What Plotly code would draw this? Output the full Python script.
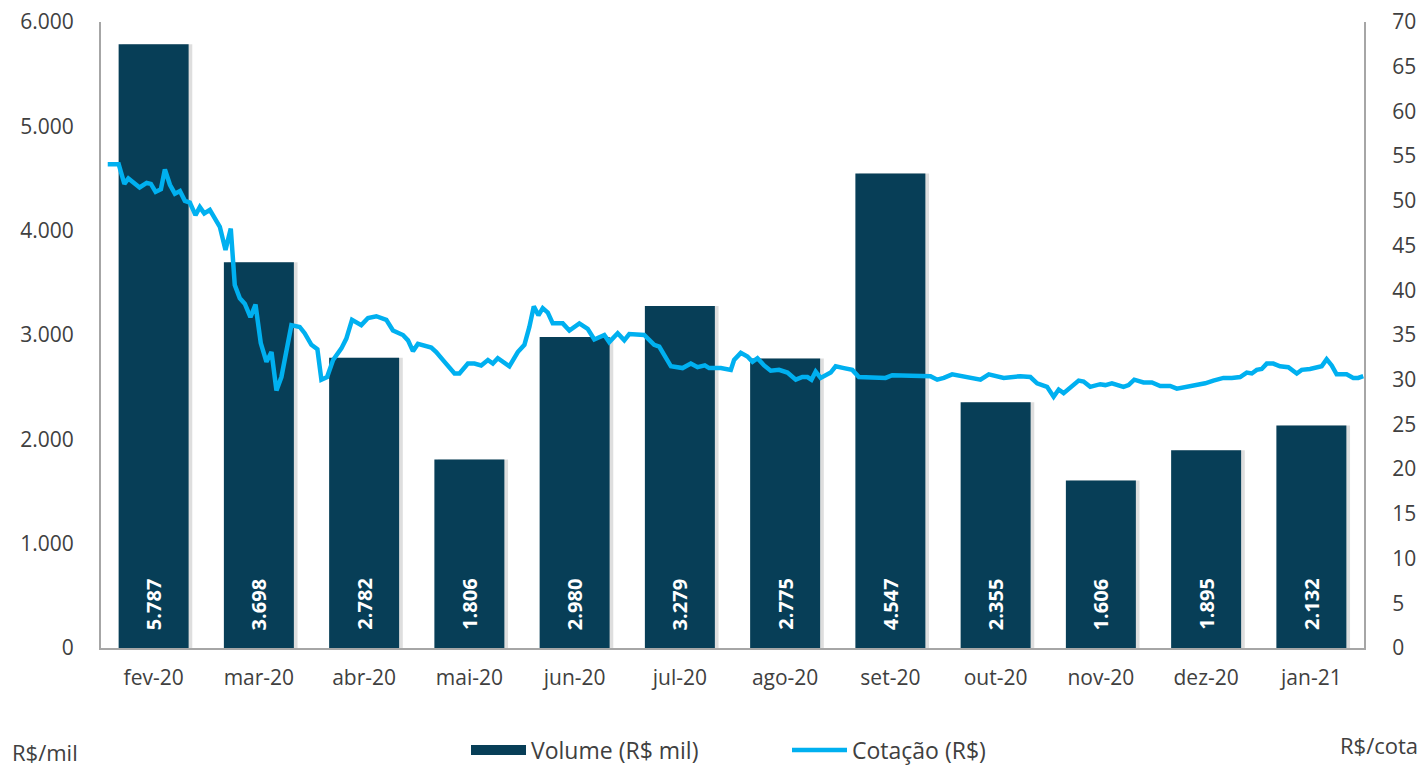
import plotly.graph_objects as go

# ---------------- data ----------------
months = ["fev-20", "mar-20", "abr-20", "mai-20", "jun-20", "jul-20",
          "ago-20", "set-20", "out-20", "nov-20", "dez-20", "jan-21"]
volume = [5787, 3698, 2782, 1806, 2980, 3279, 2775, 4547, 2355, 1606, 1895, 2132]
volume_labels = ["5.787", "3.698", "2.782", "1.806", "2.980", "3.279",
                 "2.775", "4.547", "2.355", "1.606", "1.895", "2.132"]

# quote (R$) over time; position measured in months from fev-20 (0) to jan-21 (11)
cot_pos = [-0.436, -0.332, -0.278, -0.240, -0.133, -0.066, -0.026, 0.019, 0.069, 0.107,
           0.155, 0.202, 0.250, 0.297, 0.344, 0.398, 0.439, 0.481, 0.534, 0.582,
           0.629, 0.683, 0.733, 0.771, 0.819, 0.866, 0.920, 0.968, 1.018, 1.072,
           1.120, 1.167, 1.214, 1.309, 1.388, 1.435, 1.499, 1.556, 1.594, 1.648,
           1.705, 1.784, 1.831, 1.885, 1.973, 2.037, 2.116, 2.211, 2.274, 2.369,
           2.417, 2.464, 2.511, 2.638, 2.685, 2.764, 2.859, 2.906, 2.986, 3.048,
           3.112, 3.176, 3.223, 3.270, 3.318, 3.380, 3.460, 3.523, 3.570, 3.612,
           3.656, 3.697, 3.745, 3.792, 3.887, 3.950, 4.045, 4.124, 4.187, 4.282,
           4.329, 4.409, 4.472, 4.519, 4.661, 4.756, 4.804, 4.851, 4.915, 5.026,
           5.104, 5.168, 5.237, 5.278, 5.389, 5.484, 5.515, 5.579, 5.642, 5.690,
           5.737, 5.800, 5.863, 5.942, 6.022, 6.101, 6.164, 6.212, 6.250, 6.290,
           6.338, 6.433, 6.480, 6.559, 6.638, 6.701, 6.812, 6.954, 7.018, 7.223,
           7.381, 7.445, 7.508, 7.587, 7.698, 7.856, 7.935, 8.077, 8.235, 8.330,
           8.394, 8.489, 8.551, 8.599, 8.646, 8.710, 8.789, 8.836, 8.899, 8.994,
           9.042, 9.105, 9.215, 9.263, 9.317, 9.405, 9.485, 9.564, 9.658, 9.722,
           9.817, 9.912, 9.991, 10.069, 10.164, 10.244, 10.323, 10.386, 10.434, 10.481,
           10.528, 10.576, 10.638, 10.702, 10.781, 10.861, 10.908, 10.987, 11.050, 11.098,
           11.145, 11.193, 11.240, 11.335, 11.398, 11.445, 11.493]
cot_val = [54.1, 54.1, 51.9, 52.5, 51.5, 52.0, 51.9, 51.0, 51.3, 53.5,
           51.8, 50.8, 51.1, 50.0, 49.8, 48.4, 49.3, 48.6, 49.0, 48.0,
           47.1, 44.5, 46.9, 40.6, 39.1, 38.5, 37.0, 38.4, 34.1, 32.0,
           33.1, 28.8, 30.3, 36.1, 35.9, 35.2, 33.9, 33.4, 30.0, 30.3,
           32.2, 33.5, 34.6, 36.7, 36.1, 36.9, 37.1, 36.7, 35.5, 35.0,
           34.4, 33.2, 34.0, 33.6, 33.1, 32.0, 30.7, 30.7, 31.8, 31.8,
           31.6, 32.2, 31.8, 32.4, 32.0, 31.5, 33.1, 33.9, 35.9, 38.2,
           37.2, 38.0, 37.5, 36.3, 36.3, 35.5, 36.3, 35.7, 34.5, 35.0,
           34.2, 35.2, 34.4, 35.1, 35.0, 33.9, 33.7, 32.8, 31.5, 31.3,
           31.8, 31.4, 31.6, 31.3, 31.3, 31.1, 32.2, 33.0, 32.6, 32.0,
           32.4, 31.6, 31.0, 31.1, 30.8, 30.0, 30.3, 30.3, 30.0, 30.9,
           30.2, 30.8, 31.5, 31.3, 31.1, 30.3, 30.3, 30.2, 30.5, 30.5,
           30.4, 30.0, 30.2, 30.6, 30.3, 30.0, 30.6, 30.2, 30.4, 30.3,
           29.6, 29.2, 28.1, 28.9, 28.5, 29.2, 29.9, 29.8, 29.2, 29.5,
           29.4, 29.6, 29.2, 29.4, 30.0, 29.7, 29.7, 29.3, 29.3, 29.0,
           29.2, 29.4, 29.6, 29.9, 30.2, 30.2, 30.3, 30.8, 30.7, 31.1,
           31.2, 31.8, 31.8, 31.5, 31.4, 30.7, 31.1, 31.2, 31.3, 31.5,
           32.3, 31.6, 30.6, 30.6, 30.2, 30.2, 30.4]

left_ticks = [0, 1000, 2000, 3000, 4000, 5000, 6000]
right_ticks = [0, 5, 10, 15, 20, 25, 30, 35, 40, 45, 50, 55, 60, 65, 70]

# ---------------- style ----------------
BAR = "#073E57"
LINE = "#00B0F0"
TXT = "#404040"
AXC = "#A6A6A6"
FONT = "Open Sans"
idx = list(range(len(months)))
BW = 0.665

fig = go.Figure()

# soft shadow behind bars
fig.add_trace(go.Bar(
    x=idx, y=volume, width=BW, offset=-BW / 2 + 0.035,
    marker=dict(color="rgba(0,0,0,0.13)", line=dict(width=0)),
    showlegend=False, hoverinfo="skip", yaxis="y"))

fig.add_trace(go.Bar(
    x=idx, y=volume, width=BW, offset=-BW / 2,
    name="Volume (R$ mil)", legendgroup="vol", showlegend=False,
    marker=dict(color=BAR, line=dict(width=0)),
    yaxis="y"))

# legend entry for the volume bars (wide dark swatch as in the original)
fig.add_trace(go.Scatter(
    x=[None], y=[None], mode="lines", name="Volume (R$ mil)", legendgroup="vol",
    line=dict(color=BAR, width=18), yaxis="y", hoverinfo="skip"))

fig.add_trace(go.Scatter(
    x=cot_pos, y=cot_val, mode="lines", name="Cotação (R$)",
    line=dict(color=LINE, width=4.5), yaxis="y2"))

for i, lab in zip(idx, volume_labels):
    fig.add_annotation(x=i, y=0, xref="x", yref="y", text=f"<b>{lab}</b>",
                       textangle=-90, showarrow=False, yanchor="bottom",
                       yshift=16, font=dict(family=FONT, size=20, color="white"))

fig.add_annotation(x=-0.072, y=-0.166, xref="paper", yref="paper", text="R$/mil",
                   showarrow=False, xanchor="left", yanchor="middle",
                   font=dict(family=FONT, size=22, color=TXT))
fig.add_annotation(x=1.044, y=-0.155, xref="paper", yref="paper", text="R$/cota",
                   showarrow=False, xanchor="right", yanchor="middle",
                   font=dict(family=FONT, size=22, color=TXT))

fig.update_layout(
    width=1410, height=758,
    margin=dict(l=93, r=54, t=14, b=118),
    paper_bgcolor="white", plot_bgcolor="white",
    separators=",.",
    barmode="overlay",
    font=dict(family=FONT, size=21, color=TXT),
    xaxis=dict(range=[-0.5, 11.5], tickmode="array", tickvals=idx, ticktext=months,
               showgrid=False, zeroline=False, showline=True, linecolor=AXC,
               linewidth=2, ticks="", ticklabelstandoff=10, automargin=False,
               tickfont=dict(family=FONT, size=21, color=TXT)),
    yaxis=dict(range=[0, 6000], tickmode="array", tickvals=left_ticks,
               tickformat=",.0f", showgrid=False, zeroline=False, showline=True,
               linecolor=AXC, linewidth=2, ticks="", ticklabelstandoff=21,
               automargin=False, ticklabeloverflow="allow",
               tickfont=dict(family=FONT, size=21, color=TXT)),
    yaxis2=dict(range=[0, 70], tickmode="array", tickvals=right_ticks,
                overlaying="y", side="right", showgrid=False, zeroline=False,
                showline=True, linecolor=AXC, linewidth=2, ticks="",
                ticklabelstandoff=22, automargin=False, ticklabeloverflow="allow",
                tickfont=dict(family=FONT, size=21, color=TXT)),
    legend=dict(orientation="h", x=0.289, xref="paper", xanchor="left",
                y=0.021, yref="container", yanchor="middle",
                font=dict(family=FONT, size=23, color=TXT),
                itemwidth=55, traceorder="normal", bgcolor="rgba(0,0,0,0)",
                entrywidth=251, entrywidthmode="pixels"),
    showlegend=True,
)

fig.write_html("out.html")
